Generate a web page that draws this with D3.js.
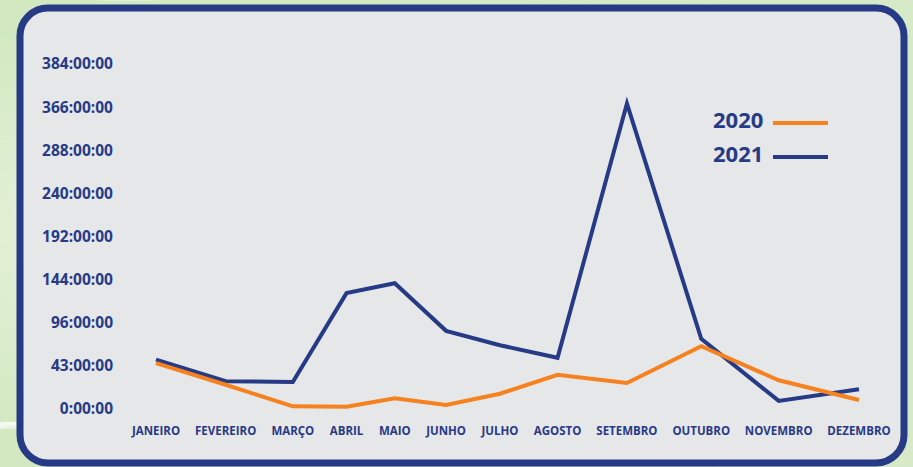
<!DOCTYPE html>
<html>
<head>
<meta charset="utf-8">
<script src="https://cdn.jsdelivr.net/npm/d3@7"></script>
<style>
  html, body { margin: 0; padding: 0; background: #d3e8c2; }
  svg { display: block; }
  .lbl { font-family: "Open Sans", sans-serif; font-weight: 700; fill: #263a85; }
</style>
</head>
<body>
<script>
  // chart values
  var months = ["JANEIRO", "FEVEREIRO", "MARÇO", "ABRIL", "MAIO", "JUNHO",
                "JULHO", "AGOSTO", "SETEMBRO", "OUTUBRO", "NOVEMBRO", "DEZEMBRO"];
  // hours per month
  var series2020 = [51, 27, 3, 2.5, 12, 4.5, 17, 38, 29, 70, 32, 10];
  var series2021 = [55, 31, 30, 129, 140, 87, 71, 57, 340, 78, 9, 22];
  var yTickValues = [0, 48, 96, 144, 192, 240, 288, 336, 384];
  var yTickLabels = ["0:00:00", "43:00:00", "96:00:00", "144:00:00", "192:00:00",
                     "240:00:00", "288:00:00", "366:00:00", "384:00:00"];
  var seriesNames = ["2020", "2021"];
  var seriesColors = ["#f5821f", "#263a85"];

  var W = 913, H = 467;
  var navy = "#263a85";

  var svg = d3.select("body").append("svg")
      .attr("width", W)
      .attr("height", H);

  // background
  var defs = svg.append("defs");
  var bg = defs.append("radialGradient").attr("id", "bg")
      .attr("cx", "0.1").attr("cy", "0.5").attr("r", "0.9");
  bg.append("stop").attr("offset", "0").attr("stop-color", "#e4f1da");
  bg.append("stop").attr("offset", "0.5").attr("stop-color", "#d2e8c0");
  bg.append("stop").attr("offset", "1").attr("stop-color", "#d6eac8");
  svg.append("rect").attr("width", W).attr("height", H).attr("fill", "url(#bg)");
  defs.append("filter").attr("id", "blur")
    .append("feGaussianBlur").attr("stdDeviation", 3);
  svg.append("path")
      .attr("d", "M-10,428 Q10,420 30,424")
      .attr("fill", "none")
      .attr("stroke", "#ffffff")
      .attr("stroke-width", 8)
      .attr("filter", "url(#blur)");
  svg.append("path")
      .attr("d", "M100,-5 Q130,5 160,-5")
      .attr("fill", "none")
      .attr("stroke", "#ffffff")
      .attr("stroke-width", 6)
      .attr("opacity", 0.6)
      .attr("filter", "url(#blur)");

  // panel
  svg.append("rect")
      .attr("x", 20).attr("y", 8)
      .attr("width", 884).attr("height", 455)
      .attr("rx", 28).attr("ry", 28)
      .attr("fill", "#e6e7e9")
      .attr("stroke", navy)
      .attr("stroke-width", 7);

  // y scale
  var y = d3.scaleLinear().domain([0, 384]).range([409, 64]);

  var yAxis = svg.append("g")
      .attr("transform", "translate(122,0)")
      .call(d3.axisLeft(y)
        .tickValues(yTickValues)
        .tickSize(0)
        .tickPadding(9)
        .tickFormat(function (d, i) { return yTickLabels[i]; }));
  yAxis.select(".domain").remove();
  yAxis.selectAll("text")
      .attr("class", "lbl")
      .style("font-size", "15.5px");

  // x positions: month slots sized by their label width (as in the original layout)
  var xLabels = svg.append("g");
  var texts = xLabels.selectAll("text")
      .data(months)
      .enter().append("text")
      .attr("class", "lbl")
      .style("font-size", "11.5px")
      .attr("text-anchor", "middle")
      .attr("y", 435)
      .text(function (d) { return d; });

  var widths = [];
  texts.each(function () { widths.push(this.getComputedTextLength()); });
  var gap = 17;
  var u = [widths[0] / 2];
  for (var i = 1; i < months.length; i++) {
    u.push(u[i - 1] + widths[i - 1] / 2 + gap + widths[i] / 2);
  }
  var slot = d3.scaleLinear().domain([u[0], u[u.length - 1]]).range([156, 859]);
  var x = d3.scaleOrdinal().domain(months).range(u.map(slot));

  texts.attr("x", function (d) { return x(d); });

  // lines (2021 below, 2020 on top)
  var line = d3.line()
      .x(function (d, i) { return x(months[i]); })
      .y(function (d) { return y(d); });

  [series2021, series2020].forEach(function (s, k) {
    svg.append("path")
        .datum(s)
        .attr("fill", "none")
        .attr("stroke", seriesColors[1 - k])
        .attr("stroke-width", 4)
        .attr("stroke-linejoin", "miter")
        .attr("d", line);
  });

  // legend
  var legend = svg.append("g").attr("transform", "translate(713,128)");
  seriesNames.forEach(function (name, i) {
    var g = legend.append("g").attr("transform", "translate(0," + (i * 34) + ")");
    g.append("text")
        .attr("class", "lbl")
        .style("font-size", "22px")
        .attr("x", 0)
        .attr("y", 0)
        .text(name);
    g.append("line")
        .attr("x1", 60).attr("x2", 115)
        .attr("y1", -5).attr("y2", -5)
        .attr("stroke", seriesColors[i])
        .attr("stroke-width", 4);
  });
</script>
</body>
</html>
